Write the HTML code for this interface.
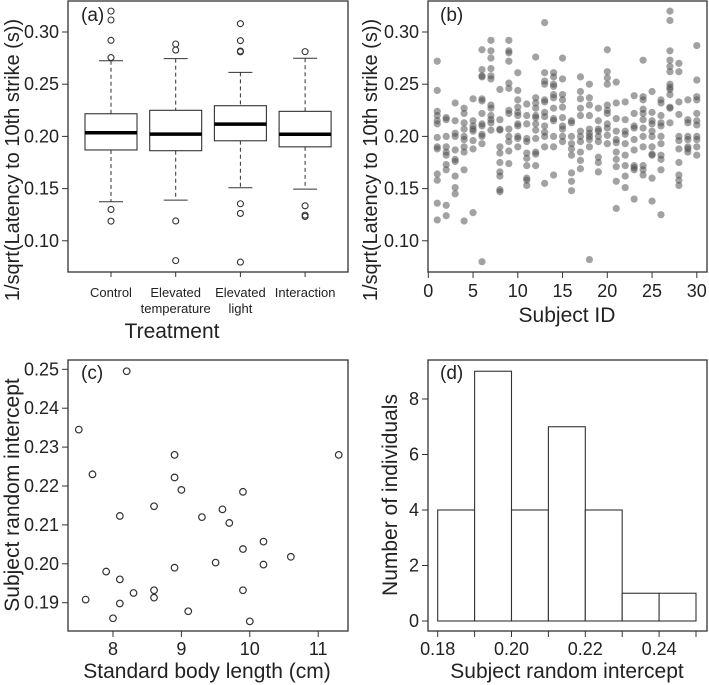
<!DOCTYPE html>
<html><head><meta charset="utf-8"><style>
html,body{margin:0;padding:0;background:#fff}
svg{display:block;font-family:"Liberation Sans",Arial,sans-serif}
</style></head><body>
<svg id="fig" width="709" height="685" viewBox="0 0 709 685">
<g id="pa"></g>
<g id="pb"></g>
<g id="pc"></g>
<g id="pd"></g>
</svg>
<script>
// ---- Panel A data ----
const treatments = ["Control","Elevated temperature","Elevated light","Interaction"];
const whiskerLow = [0.1374,0.139,0.1508,0.1495];
const q1 = [0.187,0.1863,0.1958,0.19];
const medians = [0.2035,0.2022,0.2118,0.202];
const q3 = [0.2217,0.225,0.2294,0.224];
const whiskerHigh = [0.2725,0.2745,0.2613,0.2748];
const outliers = [[0.320,0.3115,0.292,0.2755,0.130,0.1188],[0.2885,0.2827,0.119,0.081],[0.308,0.2917,0.2818,0.281,0.1355,0.1262,0.0796],[0.2812,0.1335,0.1246,0.1233]];
const yTicksA = [0.10,0.15,0.20,0.25,0.30];
// ---- Panel B data ----
const subjectValues = [
[0.272,0.244,0.224,0.22,0.215,0.212,0.199,0.19,0.188,0.164,0.158,0.136,0.12],
[0.218,0.216,0.2,0.19,0.185,0.182,0.173,0.168,0.134,0.124],
[0.232,0.215,0.203,0.2,0.187,0.178,0.176,0.162,0.151,0.145],
[0.227,0.222,0.213,0.207,0.2,0.197,0.19,0.185,0.168,0.119],
[0.236,0.215,0.21,0.207,0.205,0.196,0.188,0.127],
[0.283,0.264,0.258,0.257,0.236,0.234,0.222,0.212,0.21,0.202,0.2,0.193,0.08],
[0.292,0.282,0.275,0.265,0.258,0.255,0.23,0.227,0.22,0.216,0.213,0.206],
[0.245,0.216,0.207,0.206,0.19,0.184,0.175,0.166,0.162,0.149,0.147],
[0.292,0.282,0.28,0.272,0.251,0.246,0.225,0.222,0.207,0.2,0.195,0.186,0.174],
[0.261,0.244,0.235,0.228,0.223,0.22,0.212,0.21,0.2,0.198,0.19],
[0.231,0.22,0.212,0.198,0.195,0.184,0.179,0.172,0.16,0.158,0.153],
[0.276,0.237,0.232,0.227,0.22,0.218,0.212,0.206,0.198,0.185,0.183,0.172],
[0.309,0.261,0.253,0.25,0.235,0.233,0.223,0.219,0.21,0.204,0.2,0.19,0.155],
[0.261,0.257,0.25,0.248,0.24,0.237,0.227,0.217,0.215,0.2,0.19,0.163],
[0.275,0.255,0.24,0.235,0.228,0.218,0.21,0.207,0.2,0.195],
[0.215,0.213,0.2,0.193,0.188,0.182,0.165,0.157,0.148],
[0.257,0.243,0.236,0.227,0.22,0.205,0.2,0.195,0.185,0.177,0.169],
[0.25,0.237,0.23,0.22,0.207,0.203,0.2,0.197,0.19,0.082],
[0.227,0.215,0.207,0.205,0.2,0.195,0.18,0.175,0.166],
[0.283,0.262,0.256,0.25,0.23,0.225,0.222,0.212,0.208,0.201,0.193],
[0.252,0.232,0.217,0.205,0.197,0.194,0.185,0.178,0.171,0.157,0.131],
[0.233,0.216,0.205,0.202,0.193,0.182,0.172,0.162,0.151],
[0.239,0.222,0.21,0.208,0.197,0.187,0.172,0.17,0.168,0.14],
[0.273,0.238,0.235,0.226,0.222,0.216,0.208,0.2,0.19,0.172,0.168,0.163],
[0.243,0.223,0.215,0.212,0.205,0.2,0.19,0.183,0.182,0.16,0.138],
[0.235,0.232,0.22,0.213,0.21,0.2,0.193,0.182,0.178,0.168,0.125],
[0.32,0.311,0.282,0.273,0.267,0.262,0.25,0.247,0.245,0.24,0.228,0.227,0.213],
[0.27,0.262,0.233,0.221,0.2,0.196,0.188,0.175,0.163,0.158,0.153],
[0.235,0.216,0.213,0.2,0.197,0.19,0.188,0.185],
[0.287,0.254,0.238,0.235,0.222,0.215,0.211,0.2,0.197,0.19,0.182]];
const xTicksB = [0,5,10,15,20,25,30];
// ---- Panel C data ----
const bodyLength = [8.2,7.5,7.7,8.9,11.3,8.9,9.0,9.9,8.6,9.6,8.1,9.3,9.7,10.2,9.9,10.6,9.5,10.2,8.9,7.9,8.1,8.6,9.9,8.3,8.6,7.6,8.1,9.1,8.0,10.0];
const interceptC = [0.2495,0.2345,0.223,0.228,0.228,0.2222,0.219,0.2185,0.2148,0.214,0.2123,0.212,0.2105,0.2057,0.2038,0.2018,0.2003,0.1998,0.199,0.198,0.196,0.1932,0.1932,0.1925,0.1913,0.1908,0.1898,0.1878,0.186,0.1852];
const xTicksC = [8,9,10,11];
const yTicksC = [0.19,0.20,0.21,0.22,0.23,0.24,0.25];
// ---- Panel D data ----
const binEdges = [0.18,0.19,0.20,0.21,0.22,0.23,0.24,0.25];
const binCounts = [4,9,4,7,4,1,1];
const xTicksD = [0.18,0.20,0.22,0.24];
const yTicksD = [0,2,4,6,8];

const NS="http://www.w3.org/2000/svg";
function mk(parent,tag,attrs,text){const e=document.createElementNS(NS,tag);for(const k in attrs)e.setAttribute(k,attrs[k]);if(text!==undefined)e.textContent=text;parent.appendChild(e);return e;}

// Panel A
const A=document.getElementById('pa');
const yA=v=>32+(0.30-v)*1044;
const xA=i=>111+i*64.7;
let e;
e=mk(A,'rect',{x:68,y:1,width:280,height:271,fill:'none',stroke:'#333','stroke-width':1.3});

yTicksA.forEach(t=>{mk(A,'line',{x1:62,x2:68,y1:yA(t),y2:yA(t),stroke:'#333'});
 e=mk(A,'text',{x:59,y:yA(t)+6,'text-anchor':'end','font-size':18,fill:'#222'},t.toFixed(2));
 });
treatments.forEach((name,i)=>{
 const x=xA(i);
 mk(A,'line',{x1:x,x2:x,y1:272,y2:277,stroke:'#333'});
 mk(A,'line',{x1:x,x2:x,y1:yA(whiskerHigh[i]),y2:yA(q3[i]),stroke:'#333','stroke-dasharray':'4,3'});
 mk(A,'line',{x1:x,x2:x,y1:yA(q1[i]),y2:yA(whiskerLow[i]),stroke:'#333','stroke-dasharray':'4,3'});
 mk(A,'line',{x1:x-12,x2:x+12,y1:yA(whiskerHigh[i]),y2:yA(whiskerHigh[i]),stroke:'#333'});
 mk(A,'line',{x1:x-12,x2:x+12,y1:yA(whiskerLow[i]),y2:yA(whiskerLow[i]),stroke:'#333'});
 e=mk(A,'rect',{x:x-26,y:yA(q3[i]),width:52,height:yA(q1[i])-yA(q3[i]),fill:'#fff',stroke:'#333','stroke-width':1.1});
 
 mk(A,'line',{x1:x-26,x2:x+26,y1:yA(medians[i]),y2:yA(medians[i]),stroke:'#000','stroke-width':3.5});
 outliers[i].forEach(v=>{e=mk(A,'circle',{cx:x,cy:yA(v),r:3,fill:'none',stroke:'#333','stroke-width':1.1});
  });
 const parts=name.split(' ');
 parts.forEach((p,j)=>{e=mk(A,'text',{x:x,y:297+j*16,'text-anchor':'middle','font-size':13,fill:'#222'},p);
  });
});
e=mk(A,'text',{x:172,y:338,'text-anchor':'middle','font-size':21,fill:'#222'},'Treatment');

e=mk(A,'text',{x:0,y:0,'text-anchor':'middle','font-size':20,fill:'#222',transform:'translate(19,160) rotate(-90)'},'1/sqrt(Latency to 10th strike (s))');

e=mk(A,'text',{x:81,y:21,'font-size':19,fill:'#222'},'(a)');


// Panel B
const B=document.getElementById('pb');
const xB=v=>428.3+v*8.95;
e=mk(B,'rect',{x:428,y:1,width:279,height:271,fill:'none',stroke:'#333','stroke-width':1.3});

yTicksA.forEach(t=>{mk(B,'line',{x1:422,x2:428,y1:yA(t),y2:yA(t),stroke:'#333'});
 e=mk(B,'text',{x:419,y:yA(t)+6,'text-anchor':'end','font-size':18,fill:'#222'},t.toFixed(2));
 });
xTicksB.forEach(t=>{mk(B,'line',{x1:xB(t),x2:xB(t),y1:272,y2:278,stroke:'#333'});
 e=mk(B,'text',{x:xB(t),y:297,'text-anchor':'middle','font-size':18,fill:'#222'},String(t));
 });
subjectValues.forEach((vals,i)=>{vals.forEach(v=>{
 e=mk(B,'circle',{cx:xB(i+1),cy:yA(v),r:3.6,fill:'rgba(70,70,70,0.5)'});
 });});
e=mk(B,'text',{x:567,y:322,'text-anchor':'middle','font-size':21,fill:'#222'},'Subject ID');

e=mk(B,'text',{x:0,y:0,'text-anchor':'middle','font-size':20,fill:'#222',transform:'translate(377,160) rotate(-90)'},'1/sqrt(Latency to 10th strike (s))');

e=mk(B,'text',{x:440,y:21,'font-size':19,fill:'#222'},'(b)');


// Panel C
const C=document.getElementById('pc');
const xC=v=>113+(v-8)*68.4;
const yC=v=>369.3+(0.25-v)*3890;
e=mk(C,'rect',{x:68,y:360,width:280,height:271,fill:'none',stroke:'#333','stroke-width':1.3});

yTicksC.forEach(t=>{mk(C,'line',{x1:62,x2:68,y1:yC(t),y2:yC(t),stroke:'#333'});
 e=mk(C,'text',{x:59,y:yC(t)+6,'text-anchor':'end','font-size':18,fill:'#222'},t.toFixed(2));
 });
xTicksC.forEach(t=>{mk(C,'line',{x1:xC(t),x2:xC(t),y1:631,y2:637,stroke:'#333'});
 e=mk(C,'text',{x:xC(t),y:655,'text-anchor':'middle','font-size':18,fill:'#222'},String(t));
 });
bodyLength.forEach((v,i)=>{e=mk(C,'circle',{cx:xC(v),cy:yC(interceptC[i]),r:3.3,fill:'none',stroke:'#333','stroke-width':1.2});
 });
e=mk(C,'text',{x:207,y:678,'text-anchor':'middle','font-size':21,fill:'#222'},'Standard body length (cm)');

e=mk(C,'text',{x:0,y:0,'text-anchor':'middle','font-size':21,fill:'#222',transform:'translate(19,495) rotate(-90)'},'Subject random intercept');

e=mk(C,'text',{x:81,y:379,'font-size':19,fill:'#222'},'(c)');


// Panel D
const D=document.getElementById('pd');
const xD=v=>437.7+(v-0.18)*3690;
const yD=v=>621-v*27.75;
e=mk(D,'rect',{x:428,y:360,width:279,height:271,fill:'none',stroke:'#333','stroke-width':1.3});

yTicksD.forEach(t=>{mk(D,'line',{x1:422,x2:428,y1:yD(t),y2:yD(t),stroke:'#333'});
 e=mk(D,'text',{x:419,y:yD(t)+6,'text-anchor':'end','font-size':18,fill:'#222'},String(t));
 });
binEdges.forEach(t=>{mk(D,'line',{x1:xD(t),x2:xD(t),y1:631,y2:637,stroke:'#333'});});
xTicksD.forEach(t=>{e=mk(D,'text',{x:xD(t),y:655,'text-anchor':'middle','font-size':18,fill:'#222'},t.toFixed(2));
 });
binCounts.forEach((c,i)=>{const x0=xD(binEdges[i]),x1=xD(binEdges[i+1]);
 e=mk(D,'rect',{x:x0,y:yD(c),width:x1-x0,height:yD(0)-yD(c),fill:'#fff',stroke:'#333','stroke-width':1.1});
 });
e=mk(D,'text',{x:567,y:678,'text-anchor':'middle','font-size':21,fill:'#222'},'Subject random intercept');

e=mk(D,'text',{x:0,y:0,'text-anchor':'middle','font-size':21,fill:'#222',transform:'translate(397,495) rotate(-90)'},'Number of individuals');

e=mk(D,'text',{x:440,y:379,'font-size':19,fill:'#222'},'(d)');

</script>
</body></html>
